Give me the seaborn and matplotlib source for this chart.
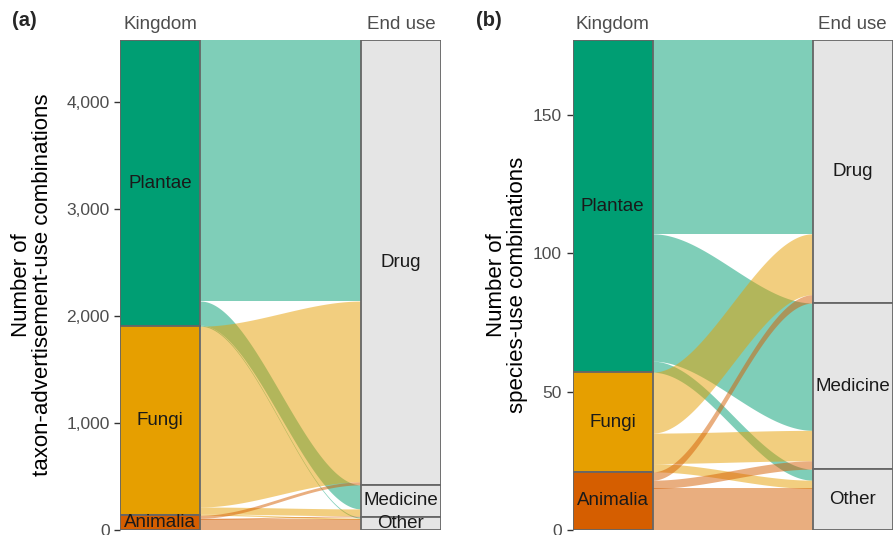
import numpy as np
import matplotlib
matplotlib.use("Agg")
import matplotlib.pyplot as plt
from matplotlib.ticker import FuncFormatter
import seaborn as sns

# Strata (top to bottom) and flow counts: rows = kingdom, cols = end use
kingdoms = ["Plantae", "Fungi", "Animalia"]
end_uses = ["Drug", "Medicine", "Other"]
kingdom_colors = ["#009E73", "#E69F00", "#D55E00"]

combos_a = [[2440, 225, 10],
            [1690, 65, 12],
            [28, 10, 100]]
combos_b = [[70, 46, 4],
            [22, 11, 3],
            [3, 3, 15]]

ticks_a = [0, 1000, 2000, 3000, 4000]
ticks_b = [0, 50, 100, 150]
axis_names = ["Kingdom", "End use"]
ylabel_a = "Number of\ntaxon-advertisement-use combinations"
ylabel_b = "Number of\nspecies-use combinations"

sns.set_theme(style="white")
plt.rcParams["font.family"] = ["Liberation Sans", "DejaVu Sans"]

W = 1 / 3          # stratum width (ggalluvial default)
EDGE = "#666666"
GREY_TXT = "#4D4D4D"


def stack(sizes):
    sizes = np.asarray(sizes, dtype=float)
    tops = sizes.sum() - np.concatenate([[0], np.cumsum(sizes)[:-1]])
    return tops, tops - sizes


def draw_alluvial(ax, combos, ticks, fmt, ylabel, label_x):
    m = np.asarray(combos, dtype=float)
    total = m.sum()
    k_top, k_bot = stack(m.sum(axis=1))
    u_top, u_bot = stack(m.sum(axis=0))

    # flows
    t = np.linspace(0, 1, 200)
    s = t * t * (3 - 2 * t)
    x = 1 + W / 2 + t * (1 - W)
    for i in range(len(kingdoms)):
        for j in range(len(end_uses)):
            v = m[i, j]
            l_top = k_top[i] - m[i, :j].sum()
            r_top = u_top[j] - m[:i, j].sum()
            top = l_top + (r_top - l_top) * s
            ax.fill_between(x, top - v, top, color=kingdom_colors[i],
                            alpha=0.5, linewidth=0)

    # strata
    ax.bar([1] * 3, m.sum(axis=1), bottom=k_bot, width=W,
           color=kingdom_colors, edgecolor=EDGE, linewidth=1.3)
    ax.bar([2] * 3, m.sum(axis=0), bottom=u_bot, width=W,
           color="#E5E5E5", edgecolor=EDGE, linewidth=1.3)
    for name, a, b in zip(kingdoms, k_top, k_bot):
        ax.text(1, (a + b) / 2, name, ha="center", va="center",
                fontsize=13.5, color="#1A1A1A")
    for name, a, b in zip(end_uses, u_top, u_bot):
        ax.text(2, (a + b) / 2, name, ha="center", va="center",
                fontsize=13.5, color="#1A1A1A")

    ax.set_xlim(1 - W / 2, 2 + W / 2)
    ax.set_ylim(0, total)
    ax.xaxis.tick_top()
    ax.set_xticks([1, 2])
    ax.set_xticklabels(axis_names)
    ax.tick_params(axis="x", length=0, pad=5, labelsize=13.5, labelcolor=GREY_TXT)
    ax.set_yticks(ticks)
    ax.yaxis.set_major_formatter(FuncFormatter(fmt))
    ax.tick_params(axis="y", left=True, length=4.5, width=1, color="#333333",
                   pad=3, labelsize=12.5, labelcolor=GREY_TXT)
    for sp in ax.spines.values():
        sp.set_visible(False)
    ax.set_ylabel(ylabel, fontsize=16, color="black", linespacing=1.0)
    ax.yaxis.set_label_coords(label_x, 0.5)


fig = plt.figure(figsize=(8.93, 5.35), dpi=100)
ax_a = fig.add_axes([120 / 893, 5 / 535, 321 / 893, 490 / 535])
ax_b = fig.add_axes([572.5 / 893, 5 / 535, 320 / 893, 490 / 535])

draw_alluvial(ax_a, combos_a, ticks_a, lambda v, p: f"{int(v):,}", ylabel_a, -0.21)
draw_alluvial(ax_b, combos_b, ticks_b, lambda v, p: f"{int(v)}", ylabel_b, -0.14)

fig.text(12 / 893, 1 - 21 / 535, "(a)", fontsize=14.5, fontweight="bold", va="center")
fig.text(476 / 893, 1 - 21 / 535, "(b)", fontsize=14.5, fontweight="bold", va="center")

fig.savefig("out.png", dpi=100)
